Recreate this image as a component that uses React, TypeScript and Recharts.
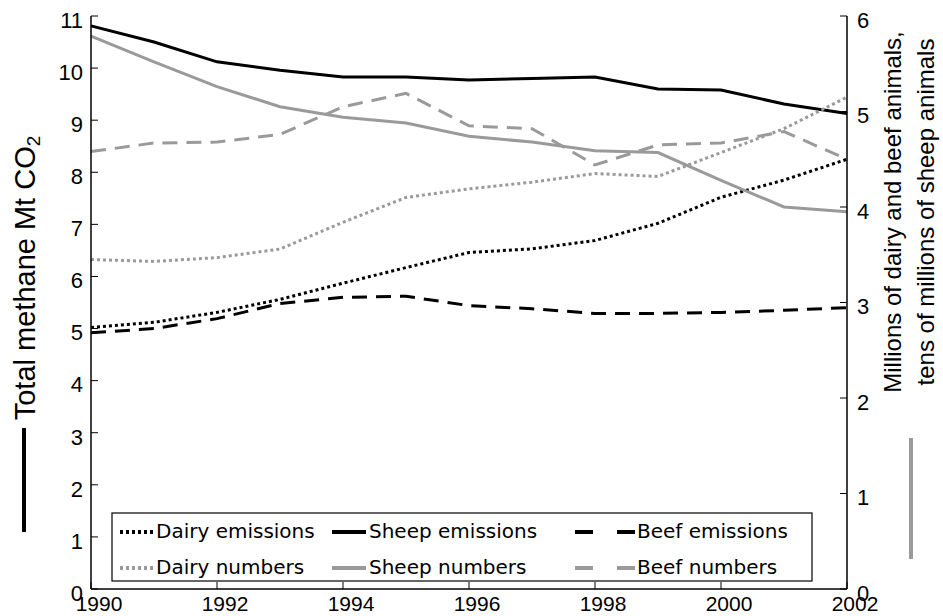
import * as React from "react"
import { LineChart, Line, XAxis, YAxis } from "recharts"

// years on the x axis
const years = [1990, 1991, 1992, 1993, 1994, 1995, 1996, 1997, 1998, 1999, 2000, 2001, 2002]
const yearTicks = [1990, 1992, 1994, 1996, 1998, 2000, 2002]
const leftTicks = [0, 1, 2, 3, 4, 5, 6, 7, 8, 9, 10, 11]
const rightTicks = [0, 1, 2, 3, 4, 5, 6]

// emissions, Mt CO2 (left axis)
const dairyEmissions = [5.02, 5.12, 5.31, 5.56, 5.87, 6.17, 6.46, 6.53, 6.69, 7.02, 7.52, 7.85, 8.25]
const sheepEmissions = [10.81, 10.5, 10.12, 9.96, 9.83, 9.83, 9.77, 9.8, 9.83, 9.6, 9.58, 9.31, 9.13]
const beefEmissions = [4.92, 5.0, 5.19, 5.48, 5.6, 5.62, 5.44, 5.38, 5.29, 5.29, 5.31, 5.35, 5.4]

// animal numbers (right axis)
const dairyNumbers = [3.45, 3.43, 3.47, 3.56, 3.84, 4.1, 4.19, 4.26, 4.35, 4.32, 4.57, 4.82, 5.15]
const sheepNumbers = [5.79, 5.52, 5.26, 5.05, 4.94, 4.88, 4.74, 4.68, 4.59, 4.57, 4.28, 4.0, 3.95]
const beefNumbers = [4.58, 4.67, 4.68, 4.76, 5.05, 5.19, 4.85, 4.82, 4.44, 4.65, 4.67, 4.79, 4.5]

const BLACK = "#000000"
const GREY = "#9a9a9a"
const DOTS = "3 3"
const DASHES = "15 9"

const data = years.map((year, i) => ({
  year,
  dairyEmissions: dairyEmissions[i],
  sheepEmissions: sheepEmissions[i],
  beefEmissions: beefEmissions[i],
  dairyNumbers: dairyNumbers[i],
  sheepNumbers: sheepNumbers[i],
  beefNumbers: beefNumbers[i],
}))

interface Series {
  key: string
  name: string
  axis: "left" | "right"
  color: string
  dash?: string
}

const series: Series[] = [
  { key: "dairyEmissions", name: "Dairy emissions", axis: "left", color: BLACK, dash: DOTS },
  { key: "sheepEmissions", name: "Sheep emissions", axis: "left", color: BLACK },
  { key: "beefEmissions", name: "Beef emissions", axis: "left", color: BLACK, dash: DASHES },
  { key: "dairyNumbers", name: "Dairy numbers", axis: "right", color: GREY, dash: DOTS },
  { key: "sheepNumbers", name: "Sheep numbers", axis: "right", color: GREY },
  { key: "beefNumbers", name: "Beef numbers", axis: "right", color: GREY, dash: DASHES },
]

const tickFont = { fontFamily: "Liberation Sans, Arial, sans-serif", fontSize: 22, fill: "#000" }
const axisLine = { stroke: "#000", strokeWidth: 1.5 }

// legend grid: three columns (dairy, sheep, beef), two rows (emissions, numbers)
const legendCols = [
  { x1: 120, x2: 153, tx: 156, dash: DOTS },
  { x1: 332, x2: 366, tx: 369 },
  { x1: 575, x2: 636, tx: 637, dash: "18 24" },
]
const legendRows = [532, 568]

function Overlay() {
  return (
    <svg
      width={943}
      height={616}
      style={{ position: "absolute", left: 0, top: 0, pointerEvents: "none" }}
    >
      {/* left axis title */}
      <g transform="translate(35, 278) rotate(-90)">
        <text textAnchor="middle" fontFamily="Liberation Sans, Arial, sans-serif" fontSize={29} fill="#000">
          Total methane Mt CO
          <tspan fontSize={19} dy={5}>2</tspan>
        </text>
      </g>
      <line x1={24} x2={24} y1={428} y2={532} stroke={BLACK} strokeWidth={4} />

      {/* right axis title */}
      <g transform="translate(901, 212) rotate(-90)">
        <text textAnchor="middle" fontFamily="Liberation Sans, Arial, sans-serif" fontSize={24} fill="#000">
          Millions of dairy and beef animals,
        </text>
      </g>
      <g transform="translate(934, 212) rotate(-90)">
        <text textAnchor="middle" fontFamily="Liberation Sans, Arial, sans-serif" fontSize={24} fill="#000">
          tens of millions of sheep animals
        </text>
      </g>
      <line x1={911} x2={911} y1={438} y2={559} stroke={GREY} strokeWidth={4} />

      {/* legend */}
      <rect x={112} y={513} width={700} height={68} fill="#fff" stroke="#000" strokeWidth={1.2} />
      {series.map((s, i) => {
        const col = legendCols[i % 3]
        const y = legendRows[Math.floor(i / 3)]
        return (
          <g key={s.key}>
            <line
              x1={col.x1}
              x2={col.x2}
              y1={y}
              y2={y}
              stroke={s.color}
              strokeWidth={4}
              strokeDasharray={col.dash}
            />
            <text
              x={col.tx}
              y={y + 6}
              fontFamily="DejaVu Sans, sans-serif"
              fontSize={20}
              fill="#000"
            >
              {s.name}
            </text>
          </g>
        )
      })}
    </svg>
  )
}

export default function App() {
  return (
    <div style={{ position: "absolute", left: 0, top: 0, width: 943, height: 616, background: "#fff" }}>
      <LineChart width={943} height={616} data={data} margin={{ top: 16, right: 0, bottom: 0, left: 0 }}>
        <XAxis
          xAxisId="bottom"
          dataKey="year"
          type="number"
          domain={[1990, 2002]}
          ticks={yearTicks}
          height={27}
          axisLine={axisLine}
          tickLine={{ stroke: "#000" }}
          tickSize={-7}
          tickMargin={14}
          tick={{ ...tickFont, fontSize: 21, dx: 8 }}
          interval={0}
        />
        <XAxis
          xAxisId="top"
          orientation="top"
          dataKey="year"
          type="number"
          domain={[1990, 2002]}
          ticks={yearTicks}
          height={0}
          axisLine={axisLine}
          tickLine={{ stroke: "#000" }}
          tickSize={-7}
          tick={{ fontSize: 0, fill: "none" }}
          interval={0}
        />
        <YAxis
          yAxisId="left"
          domain={[0, 11]}
          ticks={leftTicks}
          width={91}
          axisLine={axisLine}
          tickLine={{ stroke: "#000" }}
          tickSize={-7}
          tickMargin={15}
          tick={{ ...tickFont, dy: 4 }}
          interval={0}
        />
        <YAxis
          yAxisId="right"
          orientation="right"
          domain={[0, 6]}
          ticks={rightTicks}
          width={96}
          axisLine={axisLine}
          tickLine={{ stroke: "#000" }}
          tickSize={-7}
          tickMargin={17}
          tick={{ ...tickFont, dy: 4 }}
          interval={0}
        />
        {series.map((s) => (
          <Line
            key={s.key}
            xAxisId="bottom"
            yAxisId={s.axis}
            dataKey={s.key}
            name={s.name}
            type="linear"
            stroke={s.color}
            strokeWidth={3}
            strokeDasharray={s.dash}
            dot={false}
            activeDot={false}
            isAnimationActive={false}
          />
        ))}
      </LineChart>
      <Overlay />
    </div>
  )
}
